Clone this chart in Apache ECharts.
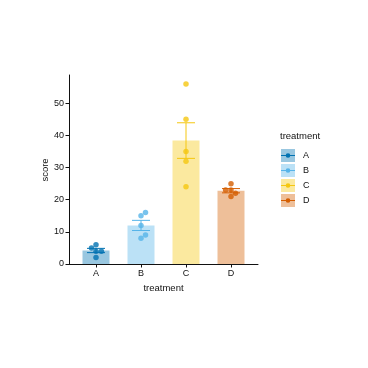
<!DOCTYPE html>
<html><head><meta charset="utf-8">
<script src="https://cdn.jsdelivr.net/npm/echarts@6/dist/echarts.min.js"></script>
<style>html,body{margin:0;padding:0;background:#fff}#c{width:368px;height:368px}</style>
</head><body><div id="c"></div>
<script>
// ---- data ----
const categories = ['A', 'B', 'C', 'D'];
const scoresA = [6, 5, 4, 4, 2];
const scoresB = [16, 15, 12, 9, 8];
const scoresC = [56, 45, 35, 32, 24];
const scoresD = [25, 23, 23, 22, 21];
// horizontal jitter of the points (category units)
const jitterA = [0, -0.1, 0, 0.12, 0];
const jitterB = [0.1, 0, 0, 0.1, 0];
const jitterC = [0, 0, 0, 0, 0];
const jitterD = [0, -0.12, 0, 0.1, 0];
const yTicks = [0, 10, 20, 30, 40, 50];
const colors = ['#0072B2', '#56B4E9', '#F5C710', '#D55E00'];

const groups = [scoresA, scoresB, scoresC, scoresD];
const jitters = [jitterA, jitterB, jitterC, jitterD];
function mean(a){return a.reduce((s,v)=>s+v,0)/a.length;}
function se(a){const m=mean(a);const v=a.reduce((s,x)=>s+(x-m)*(x-m),0)/(a.length-1);return Math.sqrt(v)/Math.sqrt(a.length);}
function fade(hex, a){const r=parseInt(hex.slice(1,3),16),g=parseInt(hex.slice(3,5),16),b=parseInt(hex.slice(5,7),16);return 'rgba('+r+','+g+','+b+','+a+')';}

const FONT = 'Liberation Sans, Arial, sans-serif';
const chart = echarts.init(document.getElementById('c'), null, {renderer:'canvas'});

const barData = groups.map((g,i)=>({value:[i+1, mean(g)], itemStyle:{color:fade(colors[i],0.4)}}));
const errData = groups.map((g,i)=>[i+1, mean(g)-se(g), mean(g)+se(g), i]);
const ptData = [];
groups.forEach((g,i)=>g.forEach((v,j)=>ptData.push({value:[i+1+jitters[i][j], v], itemStyle:{color:colors[i]}})));

// legend + y title drawn as graphics
const legendEls = [
  {type:'text', x:45, y:170, rotation:Math.PI/2, style:{text:'score', font:'9.5px '+FONT, fill:'#111', align:'center', verticalAlign:'middle'}},
  {type:'text', left:280, top:131, style:{text:'treatment', font:'9.5px '+FONT, fill:'#111'}}
];
categories.forEach((c,i)=>{
  const y0 = 149 + 15*i;
  legendEls.push({type:'rect', shape:{x:281,y:y0,width:14,height:13}, style:{fill:fade(colors[i],0.4)}});
  legendEls.push({type:'line', shape:{x1:281,y1:y0+6.5,x2:295,y2:y0+6.5}, style:{stroke:colors[i], lineWidth:1}});
  legendEls.push({type:'circle', shape:{cx:288,cy:y0+6.5,r:2.3}, style:{fill:colors[i]}});
  legendEls.push({type:'text', x:303, y:y0+6.5, style:{text:c, font:'9px '+FONT, fill:'#111', verticalAlign:'middle'}});
});

chart.setOption({
  animation:false,
  grid:{left:69, top:75, width:189, height:189, containLabel:false},
  xAxis:{type:'value', min:0.4, max:4.6,
    name:'treatment', nameLocation:'middle', nameGap:19,
    nameTextStyle:{fontFamily:FONT, fontSize:9.5, color:'#111'},
    axisLine:{show:true, onZero:false, lineStyle:{color:'#111', width:1}},
    axisTick:{show:true, length:3.5, customValues:[1,2,3,4], lineStyle:{color:'#111'}},
    axisLabel:{customValues:[1,2,3,4], formatter:v=>categories[Math.round(v)-1], fontFamily:FONT, fontSize:9, color:'#111', margin:5},
    splitLine:{show:false}},
  yAxis:{type:'value', min:0, max:58.8,
    axisLine:{show:true, lineStyle:{color:'#111', width:1}},
    axisTick:{show:true, length:3.5, customValues:yTicks, lineStyle:{color:'#111'}},
    axisLabel:{customValues:yTicks, fontFamily:FONT, fontSize:9, color:'#111', margin:5},
    splitLine:{show:false}},
  series:[
    {type:'bar', data:barData, barWidth:27, z:1},
    {type:'custom', z:2, data:errData, encode:{x:0,y:[1,2]},
     renderItem:function(params, api){
       const x=api.value(0), lo=api.value(1), hi=api.value(2), idx=api.value(3);
       const pLo=api.coord([x,lo]), pHi=api.coord([x,hi]);
       const hw=api.size([0.2,0])[0];
       const st={stroke:colors[idx], lineWidth:1};
       return {type:'group', children:[
         {type:'line', shape:{x1:pLo[0],y1:pLo[1],x2:pHi[0],y2:pHi[1]}, style:st},
         {type:'line', shape:{x1:pLo[0]-hw,y1:pLo[1],x2:pLo[0]+hw,y2:pLo[1]}, style:st},
         {type:'line', shape:{x1:pHi[0]-hw,y1:pHi[1],x2:pHi[0]+hw,y2:pHi[1]}, style:st}
       ]};
     }},
    {type:'scatter', data:ptData, symbolSize:5.5, z:3}
  ],
  graphic:legendEls
});
</script></body></html>
